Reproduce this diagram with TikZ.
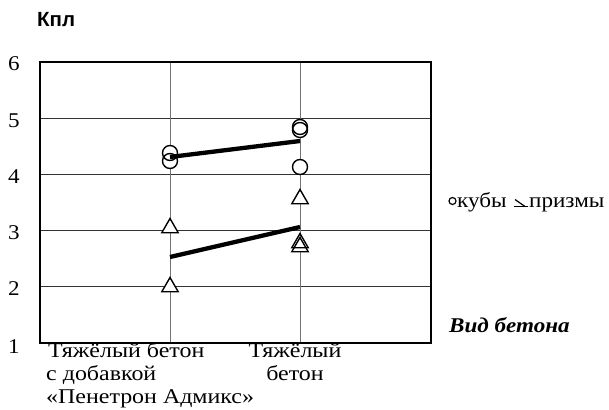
\documentclass[tikz,border=0pt]{standalone}
\usepackage{fontspec}
\setmainfont[FakeStretch=1.1]{Liberation Serif}
\newfontfamily\catfont[FakeStretch=1.14]{Liberation Serif}
\newfontfamily\kplfont{Liberation Sans}
\usetikzlibrary{shapes.geometric}
\begin{document}
\begin{tikzpicture}[x=1pt,y=-1pt,
  frame/.style={draw=black,line width=1.1pt},
  hgrid/.style={draw=black!80,line width=1pt},
  vgrid/.style={draw=black!55,line width=1pt},
  cube/.style={circle,draw=black,line width=1.4pt,minimum size=15pt,inner sep=0pt},
  prism/.style={regular polygon,regular polygon sides=3,draw=black,line width=1.4pt,minimum size=19pt,inner sep=0pt},
  trend/.style={draw=black,line width=4.3pt},
  lbl/.style={font=\fontsize{21}{23}\selectfont,inner sep=0pt},
  catlbl/.style={font=\catfont\fontsize{21}{23}\selectfont,inner sep=0pt},
  tick/.style={font=\fontsize{21}{23}\selectfont,inner sep=0pt,anchor=base}
]
\useasboundingbox (0,0) rectangle (609,409);
% grid
\foreach \yy in {118.2,174.4,230.6,286.8} \draw[hgrid] (40,\yy) -- (431,\yy);
\draw[vgrid] (170,62) -- (170,343);
\draw[vgrid] (300,62) -- (300,343);
\draw[frame] (40,62) rectangle (431,343);
% y tick labels
\node[tick] (t6) at (14,71) {6};
\node[tick] (t5) at (14,127.2) {5};
\node[tick] (t4) at (14,183.4) {4};
\node[tick] (t3) at (14,239.6) {3};
\node[tick] (t2) at (14,295.8) {2};
\node[tick] (t1) at (14,353) {1};
% axis title
\node[inner sep=0pt,anchor=base west,font=\kplfont\bfseries\fontsize{20.5}{22}\selectfont] (kpl) at (37,27) {Кпл};
% white fills under markers
\foreach \xx/\yy in {170/153,170/161,300/127,300/130,300/167}
  \fill[white] (\xx,\yy) circle (7.5pt);
% cubes
\node[cube] (c1) at (170,161) {};
\node[cube] (c2) at (170,153) {};
\node[cube] (c3) at (300,130) {};
\node[cube] (c4) at (300,127) {};
\node[cube] (c5) at (300,167) {};
% prisms
\node[prism,fill=white] (p1) at (170,228) {};
\node[prism,fill=white] (p2) at (170,287) {};
\node[prism,fill=white] (p3) at (300,199) {};
\node[prism,fill=white] (p4) at (300,247) {};
\node[prism] (p5) at (300,243) {};
% trend lines
\coordinate (u1) at (170,157);
\coordinate (u2) at (300,141);
\coordinate (l1) at (170,257);
\coordinate (l2) at (300,227);
\draw[trend] (u1) -- (u2);
\draw[trend] (l1) -- (l2);
% legend
\node[circle,draw=black,line width=1.2pt,minimum size=7pt,inner sep=0pt] (lc) at (452.5,201) {};
\node[lbl,anchor=base west] (lk) at (457,207) {кубы};
\coordinate (la) at (515,199.5);
\coordinate (lb) at (525,206.5);
\coordinate (lcx) at (513.5,206.5);
\coordinate (ld) at (528,206.5);
\draw[line width=1.2pt] (la) -- (lb);
\draw[line width=1.2pt] (lcx) -- (ld);
\node[lbl,anchor=base west] (lp) at (529,207) {призмы};
% x axis title
\node[lbl,anchor=base west,font=\bfseries\itshape\fontsize{21}{23}\selectfont] (vid) at (449,332) {Вид бетона};
% category labels
\node[catlbl,anchor=base west] (cat1) at (46,357) {\begin{tabular}[t]{@{}l@{}}\hspace{2pt}Тяжёлый бетон\\с добавкой\\«Пенетрон Адмикс»\end{tabular}};
\node[catlbl,anchor=base] (cat2) at (295,357) {\begin{tabular}[t]{@{}c@{}}Тяжёлый\\бетон\end{tabular}};
\end{tikzpicture}
\end{document}
